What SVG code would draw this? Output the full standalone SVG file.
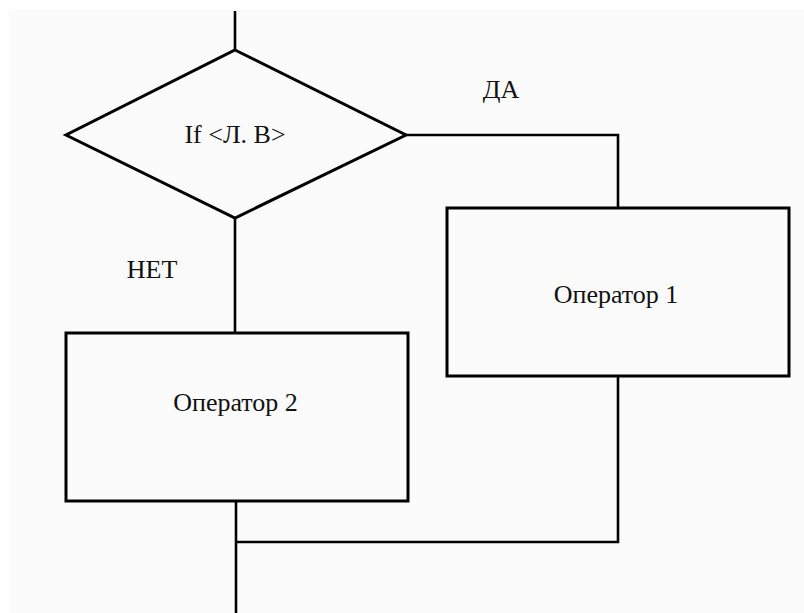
<svg xmlns="http://www.w3.org/2000/svg" width="804" height="613" viewBox="0 0 804 613">
  <style>
    .shape { fill: none; stroke: #000; stroke-width: 3; stroke-linejoin: miter; }
    .wire { fill: none; stroke: #000; stroke-width: 2.6; stroke-linejoin: miter; }
    text { font-family: 'Liberation Serif', 'Times New Roman', 'DejaVu Serif', serif; font-size: 26px; fill: #111; text-anchor: middle; }
  </style>
  <rect x="0" y="0" width="804" height="613" fill="#ffffff"/>
  <rect x="9" y="10" width="795" height="603" fill="#fbfbfb"/>

  <g id="connectors">
    <path class="wire" d="M235 11 V50"/>
    <path class="wire" d="M406 135 H618 V208"/>
    <path class="wire" d="M235 218 V333"/>
    <path class="wire" d="M618 376 V542 H235"/>
    <path class="wire" d="M236 501 V613"/>
  </g>

  <g id="decision">
    <polygon class="shape" points="235,50 406,135 235,218 66,135"/>
    <text x="235" y="143" font-family="Liberation Serif, serif">If &lt;Л. В&gt;</text>
  </g>

  <g id="label-yes">
    <text x="501" y="98" font-family="Liberation Serif, serif">ДА</text>
  </g>

  <g id="label-no">
    <text x="152" y="278" font-family="Liberation Serif, serif">НЕТ</text>
  </g>

  <g id="operator1">
    <rect class="shape" x="447" y="208" width="342" height="168"/>
    <text x="616" y="303" font-family="Liberation Serif, serif">Оператор 1</text>
  </g>

  <g id="operator2">
    <rect class="shape" x="66" y="333" width="342" height="168"/>
    <text x="235.5" y="411" font-family="Liberation Serif, serif">Оператор 2</text>
  </g>
</svg>
